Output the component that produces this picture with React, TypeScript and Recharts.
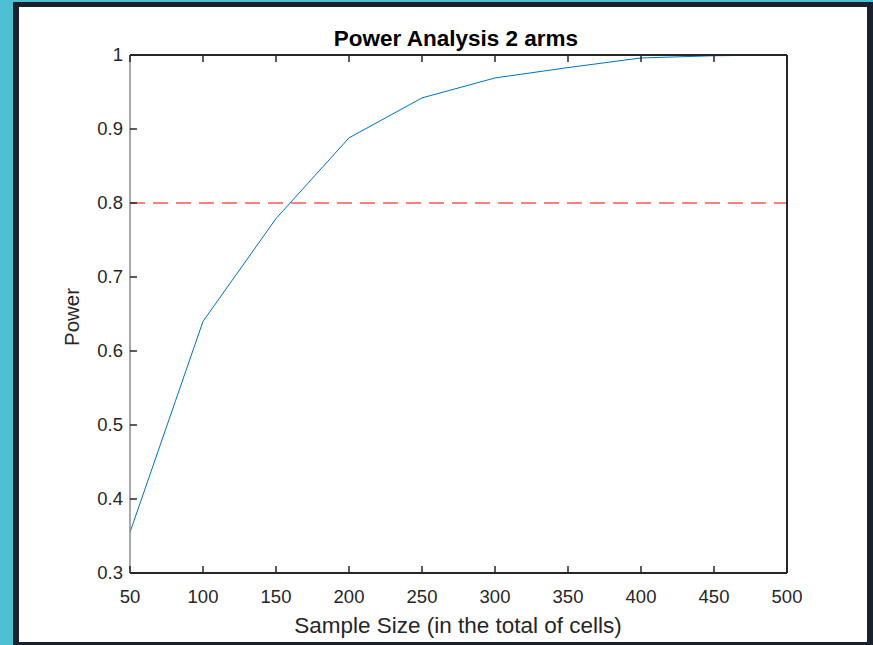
import React from "react";
import {
  LineChart,
  Line,
  XAxis,
  YAxis,
  ReferenceLine,
} from "recharts";

const sampleSizes = [50, 100, 150, 200, 250, 300, 350, 400, 450, 500];
const power = [0.355, 0.64, 0.779, 0.888, 0.942, 0.969, 0.983, 0.996, 0.999, 1.0];
const xTicks = [50, 100, 150, 200, 250, 300, 350, 400, 450, 500];
const yTicks = [0.3, 0.4, 0.5, 0.6, 0.7, 0.8, 0.9, 1];
const threshold = 0.8;

const data = sampleSizes.map((n, i) => ({ n, power: power[i] }));

const AXIS = "#262626";
const FONT = "'Liberation Sans', Arial, Helvetica, sans-serif";

const BottomTick = (props: any) => {
  const { x, y, payload } = props;
  return (
    <g>
      <line x1={x} y1={y} x2={x} y2={y - 7} stroke={AXIS} strokeWidth={1.5} />
      <text x={x} y={y + 30} textAnchor="middle" fill={AXIS} fontSize={18.5} fontFamily={FONT}>
        {payload.value}
      </text>
    </g>
  );
};

const TopTick = (props: any) => {
  const { x, y } = props;
  return <line x1={x} y1={y} x2={x} y2={y + 7} stroke={AXIS} strokeWidth={1.5} />;
};

const LeftTick = (props: any) => {
  const { x, y, payload } = props;
  return (
    <g>
      <line x1={x} y1={y} x2={x + 7} y2={y} stroke={AXIS} strokeWidth={1.5} />
      <text x={x - 7} y={y + 6} textAnchor="end" fill={AXIS} fontSize={18.5} fontFamily={FONT}>
        {payload.value}
      </text>
    </g>
  );
};

const RightTick = (props: any) => {
  const { x, y } = props;
  return <line x1={x} y1={y} x2={x - 7} y2={y} stroke={AXIS} strokeWidth={1.5} />;
};

export default function App() {
  return (
    <div
      style={{
        position: "fixed",
        left: 0,
        top: 0,
        width: 873,
        height: 645,
        background: "#4ebfd2",
        overflow: "hidden",
      }}
    >
      <div
        style={{
          position: "absolute",
          left: 13,
          top: 2,
          width: 860,
          height: 643,
          background: "#18212d",
        }}
      />
      <div
        style={{
          position: "absolute",
          left: 19,
          top: 7,
          width: 848,
          height: 635,
          background: "#ffffff",
        }}
      />
      <div style={{ position: "absolute", left: 0, top: 0 }}>
        <LineChart
          width={873}
          height={645}
          data={data}
          margin={{ top: 54, right: 85, bottom: 42, left: 90 }}
        >
          <XAxis
            dataKey="n"
            type="number"
            domain={[50, 500]}
            ticks={xTicks}
            interval={0}
            height={30}
            tickSize={0}
            tickMargin={0}
            tick={<BottomTick />}
            axisLine={{ stroke: AXIS, strokeWidth: 2 }}
          />
          <XAxis
            xAxisId="top"
            orientation="top"
            dataKey="n"
            type="number"
            domain={[50, 500]}
            ticks={xTicks}
            interval={0}
            height={1}
            tickSize={0}
            tickMargin={0}
            tick={<TopTick />}
            axisLine={{ stroke: AXIS, strokeWidth: 2 }}
          />
          <YAxis
            type="number"
            domain={[0.3, 1]}
            ticks={yTicks}
            interval={0}
            width={40}
            tickSize={0}
            tickMargin={0}
            tick={<LeftTick />}
            axisLine={{ stroke: "#8c8c8c", strokeWidth: 1.5 }}
          />
          <YAxis
            yAxisId="right"
            orientation="right"
            type="number"
            domain={[0.3, 1]}
            ticks={yTicks}
            interval={0}
            width={1}
            tickSize={0}
            tickMargin={0}
            tick={<RightTick />}
            axisLine={{ stroke: AXIS, strokeWidth: 2 }}
          />
          <ReferenceLine
            y={threshold}
            stroke="#ff0000"
            strokeWidth={1}
            strokeDasharray="15 8"
          />
          <Line
            type="linear"
            dataKey="power"
            stroke="#0072BD"
            strokeWidth={1}
            dot={false}
            isAnimationActive={false}
          />
        </LineChart>
      </div>
      <svg
        width={873}
        height={645}
        style={{ position: "absolute", left: 0, top: 0, pointerEvents: "none" }}
      >
        <text x={456} y={46} textAnchor="middle" fontWeight="bold" fontSize={22.5} fontFamily={FONT} fill="#000">
          Power Analysis 2 arms
        </text>
        <text x={458} y={633} textAnchor="middle" fontSize={22.5} fontFamily={FONT} fill={AXIS}>
          Sample Size (in the total of cells)
        </text>
        <text
          x={0}
          y={0}
          transform="translate(79 317) rotate(-90)"
          textAnchor="middle"
          fontSize={20.5}
          fontFamily={FONT}
          fill={AXIS}
        >
          Power
        </text>
      </svg>
    </div>
  );
}
